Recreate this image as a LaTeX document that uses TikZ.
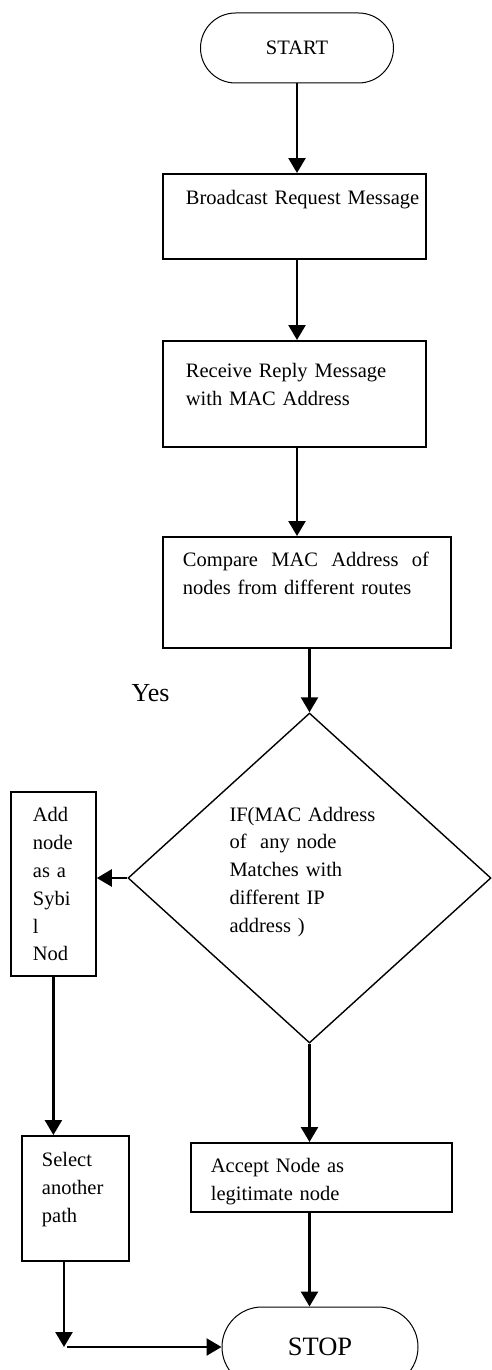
\documentclass[tikz,border=0pt]{standalone}
\usepackage{fontspec}
\setmainfont{Liberation Serif}
\usepackage{tikz}
\usetikzlibrary{arrows.meta,shapes.misc,shapes.geometric}
\definecolor{ink}{HTML}{000000}
\hyphenpenalty=10000
\newcommand{\lpad}[1]{\hspace*{#1}}
\tikzset{
  body/.style={font=\fontsize{20.5}{27.8}\selectfont},
  box/.style={draw=ink, line width=1.8pt, body, anchor=north west, inner sep=0pt, align=left},
  term/.style={draw=ink, line width=1pt, rounded rectangle, inner sep=0pt},
  decision/.style={draw=ink, line width=1.4pt, diamond, inner sep=0pt, body, align=left},
  arr/.style={draw=ink, line width=2.5pt, -{Triangle[length=15pt,width=17pt]}},
  lbl/.style={text=ink, font=\fontsize{26}{30}\selectfont}
}

\begin{document}
\begin{tikzpicture}[x=1pt, y=-1pt]
  \useasboundingbox (0,0) rectangle (491,1370);

  \node[term, minimum width=193pt, minimum height=70pt, body] (start) at (297,48) {START};

  \node[box, text width=263pt, text height=31pt, text depth=54pt] (bcast) at (162,173)
    {\lpad{23pt}Broadcast Request Message};
  \node[box, text width=263pt, text height=37pt, text depth=69pt] (recv) at (162,340)
    {\lpad{23pt}Receive Reply Message\\\lpad{23pt}with MAC Address};
  \node[box, text width=288pt, text height=30pt, text depth=81pt] (cmp) at (162,536)
    {\lpad{20pt}\hbox to 246pt{Compare\hfill MAC\hfill Address\hfill of}\\\lpad{20pt}nodes from different routes};

  \node[decision, minimum width=363pt, minimum height=330pt, text width=160pt, text height=15pt, text depth=129pt] (dia) at (309.5,878)
    {IF(MAC Address\\of\ \ any node\\Matches with\\different IP\\address )};

  \node[box, text width=85pt, text height=30pt, text depth=154pt] (sybil) at (10,791)
    {\lpad{22pt}Add\\\lpad{22pt}node\\\lpad{22pt}as a\\\lpad{22pt}Sybi\\\lpad{22pt}l\\\lpad{22pt}Nod};
  \node[box, text width=107pt, text height=31pt, text depth=94pt] (select) at (21,1135)
    {\lpad{20pt}Select\\\lpad{20pt}another\\\lpad{20pt}path};
  \node[box, text width=261pt, text height=30pt, text depth=39pt] (accept) at (190,1142)
    {\lpad{20pt}Accept Node as\\\lpad{20pt}legitimate node};

  \node[term, minimum width=196pt, minimum height=80pt, font=\fontsize{26.5}{30}\selectfont] (stop) at (320,1347) {STOP};

  \node[lbl, anchor=base east] (yes) at (173,701) {Yes};

  \coordinate (turn) at (64,1347);

  \draw[arr] (start.south) -- (start.south |- bcast.north);
  \draw[arr] (bcast.south -| start) -- (recv.north -| start);
  \draw[arr] (recv.south -| start) -- (cmp.north -| start);
  \draw[arr] (cmp.south -| dia) -- (dia.north);
  \draw[arr] (dia.west) -- (sybil.east |- dia.west);
  \draw[arr] (sybil.south) -- (sybil.south |- select.north);
  \draw[arr] (dia.south) -- (dia.south |- accept.north);
  \draw[arr] (accept.south -| dia) -- (stop.north -| dia);
  \draw[arr] (select.south -| turn) -- (turn);
  \draw[arr] ([xshift=3pt]turn) -- (stop.west);
\end{tikzpicture}
\end{document}
